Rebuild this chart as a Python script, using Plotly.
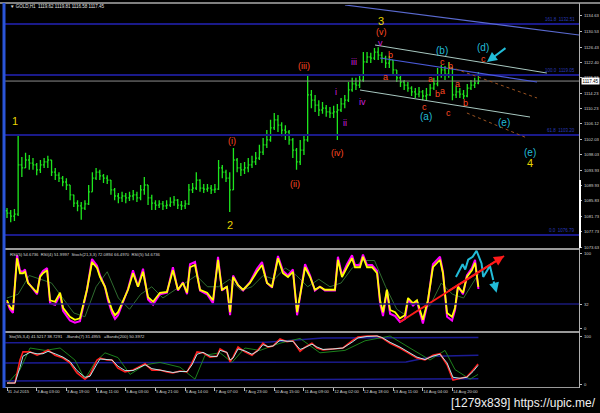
import plotly.graph_objects as go

# ---------------- data ----------------
# 2-hour price bars, x = hour index since 31 Jul 2015 (first bar)
bar_hours = list(range(0, 256, 2))
close = [1082.6,1081.8,1082.3,1095.3,1094.5,1096.6,1095.8,1095.3,1094.0,1095.3,
         1096.1,1096.6,1093.4,1092.6,1091.8,1090.8,1090.0,1087.4,1085.2,1084.5,
         1083.9,1085.0,1088.2,1091.8,1093.4,1092.4,1091.8,1091.3,1088.7,1087.1,
         1086.6,1087.1,1086.6,1087.1,1087.4,1086.6,1088.7,1090.0,1086.6,1085.2,
         1084.7,1085.0,1084.5,1084.7,1085.5,1086.0,1084.7,1084.5,1085.0,1088.7,
         1089.2,1091.3,1089.2,1088.9,1089.2,1088.7,1088.9,1094.5,1093.4,1091.8,
         1088.7,1096.6,1094.5,1094.0,1094.5,1095.3,1096.1,1097.1,1098.7,1100.6,
         1101.9,1105.1,1107.2,1105.8,1104.5,1104.0,1101.9,1099.2,1096.1,1099.2,
         1101.9,1113.8,1112.4,1111.1,1109.8,1110.3,1109.3,1109.0,1109.3,1109.8,
         1111.4,1112.4,1115.1,1116.7,1116.4,1117.7,1122.5,1123.8,1123.5,1125.1,
         1124.3,1123.5,1122.2,1123.0,1120.4,1118.3,1117.2,1116.4,1115.6,1114.6,
         1114.0,1114.6,1113.5,1113.8,1115.6,1116.7,1119.1,1120.4,1119.3,1120.9,
         1113.8,1114.6,1114.0,1113.5,1115.6,1116.4,1116.9,1117.45]
high = [1083.9,1083.4,1083.7,1103.2,1097.4,1098.5,1097.9,1097.1,1095.8,1096.6,
        1097.1,1097.7,1096.6,1094.5,1093.4,1092.4,1091.8,1090.0,1087.4,1086.0,
        1085.5,1086.0,1090.0,1093.4,1094.5,1094.0,1092.9,1092.6,1091.3,1089.2,
        1087.9,1088.2,1087.9,1088.2,1088.7,1088.2,1090.0,1092.1,1090.0,1087.4,
        1086.0,1086.0,1085.8,1086.0,1086.8,1087.1,1086.3,1085.8,1086.0,1090.3,
        1090.5,1093.4,1091.5,1090.3,1090.3,1090.0,1090.3,1096.6,1095.3,1094.0,
        1093.4,1099.8,1097.1,1095.8,1096.1,1097.1,1097.7,1098.7,1100.6,1102.4,
        1104.5,1107.2,1109.0,1108.5,1106.6,1105.8,1104.5,1102.4,1099.8,1101.9,
        1103.2,1119.05,1115.1,1113.8,1112.4,1111.9,1111.1,1110.6,1110.9,1111.4,
        1113.0,1113.8,1117.2,1118.3,1118.3,1119.3,1125.1,1125.1,1124.9,1126.2,
        1126.4,1125.1,1124.1,1124.1,1123.0,1120.4,1118.8,1117.7,1117.2,1116.1,
        1115.6,1115.9,1115.1,1115.6,1116.7,1118.3,1120.9,1121.7,1121.4,1122.5,
        1120.9,1116.1,1115.6,1115.1,1116.7,1117.7,1118.3,1119.81]
low = [1081.3,1080.2,1080.5,1081.8,1092.1,1094.5,1094.0,1094.0,1092.6,1093.2,
       1094.5,1094.5,1092.4,1091.3,1090.8,1089.7,1088.7,1086.0,1084.2,1083.1,
       1080.8,1083.4,1084.7,1088.2,1091.3,1091.3,1090.5,1090.3,1087.4,1086.0,
       1085.2,1085.5,1085.2,1085.8,1086.0,1085.5,1086.0,1087.4,1084.7,1083.4,
       1083.4,1083.9,1083.4,1083.7,1084.2,1084.5,1083.7,1083.4,1083.7,1084.7,
       1087.9,1088.7,1088.2,1087.9,1088.2,1087.6,1087.9,1088.7,1091.8,1090.8,
       1082.9,1088.7,1093.4,1092.4,1092.9,1093.4,1094.5,1095.3,1096.6,1097.9,
       1099.8,1101.4,1104.5,1104.0,1102.9,1101.9,1100.6,1097.1,1094.0,1095.3,
       1097.9,1101.4,1110.3,1109.3,1108.2,1108.8,1108.0,1107.7,1107.7,1101.9,
       1109.3,1110.3,1111.9,1114.6,1115.1,1115.6,1117.2,1122.2,1122.2,1123.0,
       1123.0,1122.2,1120.9,1120.9,1119.05,1117.2,1115.9,1115.1,1114.6,1113.5,
       1113.0,1113.2,1112.4,1112.4,1113.5,1115.1,1116.1,1118.3,1117.7,1118.3,
       1112.4,1113.0,1113.0,1112.7,1113.2,1115.1,1115.6,1116.58]
first_open = 1083.2
open_ = [first_open] + close[:-1]
last_price = 1117.45

price_ticks = [1134.63,1130.53,1126.43,1122.40,1118.33,1114.23,1110.23,1106.12,
               1102.03,1098.03,1093.93,1089.93,1085.83,1081.73,1077.73,1073.63]
fib_levels = [1132.51, 1119.05, 1103.20, 1076.79]
fib_texts = ["161.8  1132.51", "100.0  1119.05", "61.8  1103.20", "0.0  1076.79"]

time_tick_hours = [0,16,32,48,64,80,96,112,128,144,160,176,192,208,224,240]
time_labels = ["31 Jul 2015","3 Aug 03:00","3 Aug 19:00","4 Aug 11:00","5 Aug 03:00",
               "5 Aug 21:00","6 Aug 14:00","7 Aug 07:00","7 Aug 23:00","10 Aug 15:00",
               "11 Aug 09:00","12 Aug 02:00","12 Aug 18:00","13 Aug 11:00",
               "14 Aug 04:00","14 Aug 20:00"]

# RSI panel
rsi_hours = [0,1.6,3.2,5.4,7,8.6,9.7,11.3,14,16.2,
             17.8,19.4,21.6,23.2,25.9,28.6,30.2,33.9,36.6,39.3,
             43.1,45.8,48.5,50.1,52.8,54.4,56.6,58.2,59.8,62.5,
             65.2,67.9,70.6,73.3,76,78.7,82.4,86.2,89.4,92.1,
             94.8,97,98.6,101.3,104,107.8,111,113.7,115.8,118.5,
             120.2,121.8,124.5,127.2,130.9,134.7,137.4,140.1,142.8,146,
             148.7,151.4,154.1,156.3,157.9,160.6,163.3,165.9,168.6,171.3,
             174,176.7,178.3,180.5,183.2,185.9,187.5,190.2,191.8,194,
             196.7,199.4,201,202.6,204.7,206.4,209.1,211.7,214.4,216.1,
             218.8,220.9,224.1,226.8,229.5,233.3,234.9,237.1,239.8,241.4,
             243,245.7,247.8,250.5,252.2,254]
rsi5 = [37,28,24,93,73,73,75,60,53,47,
        68,73,77,37,35,47,27,15,11,13,
        51,88,80,68,55,40,24,17,21,37,
        51,73,55,75,41,35,47,48,77,51,
        60,47,81,84,51,47,37,91,51,55,
        21,68,57,51,60,75,84,60,55,93,
        73,68,75,21,44,81,68,51,55,51,
        51,51,91,68,81,93,81,81,95,81,
        81,73,37,21,51,24,21,13,17,40,
        33,37,11,37,81,91,73,20,15,27,
        55,47,68,77,87,54.7]
rsi4 = [35,25,20,97,76,75,78,61,52,45,
        70,76,80,33,31,45,23,10,7,9,
        51,92,83,70,55,37,20,12,17,35,
        52,77,55,79,38,31,45,47,81,50,
        61,45,85,88,50,45,33,95,50,55,
        17,70,57,50,61,79,88,60,54,96,
        76,70,78,17,42,85,70,50,55,50,
        50,50,95,70,85,97,84,84,98,84,
        84,76,33,16,50,19,16,8,12,38,
        30,35,6,35,85,95,75,15,10,24,
        56,45,70,80,91,52.0]
stoch21_hours = [0,6,12,18,24,30,36,42,48,54,60,66,72,78,84,90,96,102,108,114,120,
                 126,132,138,144,150,156,162,168,174,180,186,192,198,204,210,216,
                 222,228,234,240,246,254]
stoch21 = [40,45,70,65,60,40,20,15,55,75,40,25,45,55,40,50,60,70,55,55,65,
           50,55,70,65,80,70,55,65,55,60,80,90,90,55,25,15,25,30,60,45,40,72]
rsi_level = 32
cyan_path_hours = [241.9,243.7,245.5,246.9,248.5,250.9,253.0,255.7,256.6,258.8,260.2,262.0]
cyan_path_vals = [68,77,85,78,91,95,103,86,68,77,83,64]
cyan_arrow_end = (263.8, 47)
red_trend_hours = [211.7, 267.8]
red_trend_vals = [8, 96]

# Stochastic panel
sto_hours = [0,4.3,7,8.6,12.4,16.2,19.4,22.1,25.9,30.2,
             33.9,37.7,42,44.7,48.5,50.1,53.9,56.6,59.8,63.6,
             67.9,70.6,74.4,78.1,82.4,86.2,89.4,93.2,97,99.7,
             102.4,105.6,109.4,113.1,114.8,118.5,120.2,121.8,124.5,128.2,
             132,135.2,137.9,140.6,143.3,147.1,150.9,154.1,157.9,160.6,
             164.3,167,170.3,175.6,181,185.9,189.1,194,199.4,202,
             206.4,211.7,216.1,220.9,225.2,229.5,233.3,237.1,240.3,244.1,
             247.8,251.1,253.8]
sto_main = [2,2,50,67,67,60,65,71,60,54,
            44,23,10,19,50,54,50,50,33,25,
            29,35,42,29,29,25,23,27,25,44,
            67,65,56,58,73,65,46,56,77,67,
            60,71,85,77,79,94,88,90,68,77,
            85,75,71,73,75,90,98,100,100,96,
            85,75,65,54,50,60,63,40,8,12,
            15,29,41.5]
sto_signal = [2,2,35,58,66,63,63,68,63,56,
              47,28,14,16,42,52,51,50,37,28,
              28,33,40,32,29,26,24,26,26,40,
              62,66,58,57,70,66,50,54,73,69,
              62,69,82,78,79,91,89,89,72,76,
              83,77,72,73,75,87,96,99,100,97,
              87,77,67,56,51,58,62,44,14,12,
              14,26,38.7]
sto_green_hours = [0,7,12.4,20.5,28.6,36.6,42,47.4,52.8,59.8,66.3,74.4,82.4,93.2,101.3,
                   106.7,114.8,121.2,128.2,136.3,147.1,157.9,168.6,182.1,192.9,206.4,
                   217.1,227.9,236,241.4,249.5,253.8]
sto_green = [0,30,75,70,75,50,10,45,65,55,20,40,45,35,10,60,65,45,75,70,85,95,65,70,
             90,100,75,50,70,30,10,20]
band_up_hours = [-1, 140, 170, 254]
band_up = [86, 87, 96, 97]
band_mid_hours = [-1, 215, 230, 254]
band_mid = [44, 46, 58, 60]
band_low_hours = [-1, 254]
band_low = [6, 11]

# ---------------- figure ----------------
W, H = 600, 413
L, R, T, B = 5, 21, 5, 26
def px(x):
    return (x - L) / (W - L - R)
def py(y):
    return (H - B - y) / (H - T - B)

XR = [-1.08, 308.2]
GREEN = "#1ee61e"
YEL = "#e8d400"
RED = "#ff4a22"
MAG = "#cc22d8"
CYAN = "#22bcd8"
FONT = "Liberation Sans"

fig = go.Figure()
fig.add_trace(go.Ohlc(x=bar_hours, open=open_, high=high, low=low, close=close,
                      increasing=dict(line=dict(color=GREEN, width=1.3)),
                      decreasing=dict(line=dict(color=GREEN, width=1.3)),
                      tickwidth=0.35, xaxis="x", yaxis="y", hoverinfo="skip"))

fig.add_trace(go.Scatter(x=stoch21_hours, y=stoch21, mode="lines", xaxis="x2", yaxis="y2",
                         line=dict(color="#2f6b2f", width=1)))
fig.add_trace(go.Scatter(x=rsi_hours, y=rsi4, mode="lines", xaxis="x2", yaxis="y2",
                         line=dict(color="#ff00ff", width=2.0)))
fig.add_trace(go.Scatter(x=rsi_hours, y=rsi5, mode="lines", xaxis="x2", yaxis="y2",
                         line=dict(color="#ffff00", width=1.8)))
fig.add_trace(go.Scatter(x=red_trend_hours, y=red_trend_vals, mode="lines", xaxis="x2", yaxis="y2",
                         line=dict(color="#ff1a1a", width=2)))
fig.add_trace(go.Scatter(x=cyan_path_hours, y=cyan_path_vals, mode="lines", xaxis="x2", yaxis="y2",
                         line=dict(color=CYAN, width=2)))

for hx, hv in [(band_up_hours, band_up), (band_mid_hours, band_mid), (band_low_hours, band_low)]:
    fig.add_trace(go.Scatter(x=hx, y=hv, mode="lines", xaxis="x3", yaxis="y3",
                             line=dict(color="#1c1c96", width=1.5)))
fig.add_trace(go.Scatter(x=sto_green_hours, y=sto_green, mode="lines", xaxis="x3", yaxis="y3",
                         line=dict(color="#1f8f1f", width=0.9)))
fig.add_trace(go.Scatter(x=sto_hours, y=sto_main, mode="lines", xaxis="x3", yaxis="y3",
                         line=dict(color="#ff2020", width=1.6)))
fig.add_trace(go.Scatter(x=sto_hours, y=sto_signal, mode="lines", xaxis="x3", yaxis="y3",
                         line=dict(color="#b8ffff", width=0.9)))

tickfont = dict(family=FONT, size=4.2, color="#d0d0d0")
common_x = dict(range=XR, showgrid=False, zeroline=False, showline=False, fixedrange=True,
                automargin=False)
common_y = dict(side="right", showticklabels=False, ticks="outside", ticklen=2,
                tickcolor="#c0c0c0", showgrid=False, zeroline=False, fixedrange=True,
                automargin=False, tickmode="array")
fig.update_layout(
    template="none",
    width=W, height=H, margin=dict(l=L, r=R, t=T, b=B),
    paper_bgcolor="#000000", plot_bgcolor="#000000", showlegend=False,
    xaxis=dict(domain=[0, 1], anchor="y", showticklabels=False, ticks="",
               rangeslider=dict(visible=False), **common_x),
    xaxis2=dict(domain=[0, 1], anchor="y2", showticklabels=False, ticks="", matches="x", **common_x),
    xaxis3=dict(domain=[0, 1], anchor="y3", matches="x", tickmode="array",
                tickvals=time_tick_hours, ticktext=time_labels, ticks="outside",
                ticklen=3, tickcolor="#c0c0c0", tickfont=tickfont, tickangle=0,
                ticklabelposition="outside right", **common_x),
    yaxis=dict(domain=[py(248), 1], range=[1073.37, 1137.53], anchor="x",
               tickvals=price_ticks, **common_y),
    yaxis2=dict(domain=[py(331), py(250)], range=[-4, 104], anchor="x2",
                tickvals=[0, 32, 100], **common_y),
    yaxis3=dict(domain=[0, py(333)], range=[-6.25, 106.25], anchor="x3",
                tickvals=[0, 100], **common_y),
)

shapes = []
def pline(x0, y0, x1, y1, color, width, dash="solid"):
    shapes.append(dict(type="line", xref="paper", yref="paper", x0=px(x0), y0=py(y0),
                       x1=px(x1), y1=py(y1), line=dict(color=color, width=width, dash=dash)))

for lv in fib_levels:
    shapes.append(dict(type="line", xref="paper", yref="y", x0=0, x1=1, y0=lv, y1=lv,
                       line=dict(color="#1a1a8a", width=2)))
shapes.append(dict(type="line", xref="paper", yref="y", x0=0, x1=1, y0=last_price, y1=last_price,
                   line=dict(color="#8c8c8c", width=1)))
shapes.append(dict(type="line", xref="paper", yref="y2", x0=0, x1=1, y0=rsi_level, y1=rsi_level,
                   line=dict(color="#1a1a7a", width=1.5)))

# channel / trend lines drawn on the price chart (hour index, price)
channel_lines = [
    ((182.1, 1137.53), (308.2, 1129.61), "#5a6ad0", 1.2, "solid"),
    ((198.3, 1126.97), (290.9, 1119.57), "#a8c8c0", 1.0, "solid"),
    ((201.0, 1123.53), (285.6, 1117.20), "#4a5ad8", 1.2, "solid"),
    ((190.2, 1115.08), (281.8, 1107.95), "#a8c8c0", 1.0, "solid"),
    ((238.7, 1121.16), (285.6, 1112.97), "#9a5220", 1.0, "dot"),
    ((247.8, 1109.01), (280.2, 1102.41), "#9a5220", 1.0, "dot"),
]
for (a, b, c, w, d) in channel_lines:
    shapes.append(dict(type="line", xref="x", yref="y", x0=a[0], y0=a[1], x1=b[0], y1=b[1],
                       line=dict(color=c, width=w, dash=d)))

# frame
pline(0, 3, 600, 3, "#808080", 2)
pline(5, 249, 579, 249, "#9a9a9a", 2)
pline(5, 332, 579, 332, "#9a9a9a", 2)
pline(5, 387.5, 579, 387.5, "#9a9a9a", 1)
pline(579.5, 3, 579.5, 388, "#b0b0b0", 1)
pline(580, 180, 580, 248, "#ffffff", 2)
pline(4, 3, 4, 388, "#2a55d8", 3)
fig.update_layout(shapes=shapes)

ann = []
def label(text, x, y, color, size, xref="x", yref="y"):
    ann.append(dict(text=text, x=x, y=y, xref=xref, yref=yref, showarrow=False,
                    font=dict(family=FONT, size=size, color=color)))

wave_labels = [
    ("1", 4.3, 1106.9, YEL, 11), ("2", 120.2, 1079.4, YEL, 11), ("3", 201.5, 1133.3, YEL, 11),
    ("4", 281.8, 1095.8, YEL, 11),
    ("(i)", 121.2, 1101.6, RED, 9), ("(ii)", 155.2, 1090.3, RED, 9), ("(iii)", 160.0, 1121.4, RED, 9),
    ("(iv)", 178.3, 1098.4, RED, 9), ("(v)", 202.0, 1130.4, RED, 9),
    ("i", 177.3, 1114.5, MAG, 9), ("ii", 182.1, 1106.4, MAG, 9), ("iii", 187.0, 1122.5, MAG, 9),
    ("iv", 191.3, 1111.9, MAG, 9), ("v", 201.0, 1127.5, MAG, 9),
    ("b", 206.4, 1124.3, RED, 9), ("a", 204.2, 1118.5, RED, 9), ("c", 225.2, 1110.6, RED, 9),
    ("a", 228.4, 1118.0, RED, 9), ("b", 232.2, 1114.0, RED, 9), ("a", 234.9, 1114.8, RED, 9),
    ("c", 234.4, 1122.5, RED, 9), ("b", 238.7, 1121.4, RED, 9), ("c", 238.1, 1109.0, RED, 9),
    ("a", 242.5, 1116.7, RED, 9), ("b", 246.8, 1111.6, RED, 9), ("c", 256.5, 1123.3, RED, 9),
    ("(a)", 225.8, 1108.2, CYAN, 10), ("(b)", 234.4, 1125.4, CYAN, 10), ("(d)", 256.5, 1126.4, CYAN, 10),
    ("(e)", 267.8, 1106.4, CYAN, 10), ("(e)", 281.8, 1098.7, CYAN, 10),
]
for t, x, y, c, s in wave_labels:
    label(t, x, y, c, s)

for lv, tx in zip(fib_levels, fib_texts):
    ann.append(dict(text=tx, x=px(577), y=lv, xref="paper", yref="y", xanchor="right",
                    yanchor="bottom", showarrow=False,
                    font=dict(family=FONT, size=4.5, color="#2a3ab8")))

# right-hand scale labels
def scale_label(text, yval, yref):
    ann.append(dict(text=text, x=px(582), y=yval, xref="paper", yref=yref, xanchor="left",
                    yanchor="middle", showarrow=False, font=tickfont))
for v in price_ticks:
    scale_label("%.2f" % v, v, "y")
for v in [0, 32, 100]:
    scale_label(str(v), v, "y2")
for v in [0, 100]:
    scale_label(str(v), v, "y3")

# arrows
ann.append(dict(x=258.6, y=1122.48, ax=269.4, ay=1126.44, xref="x", yref="y", axref="x", ayref="y",
                text="", showarrow=True, arrowhead=2, arrowsize=1, arrowwidth=2, arrowcolor=CYAN))
ann.append(dict(x=red_trend_hours[1], y=red_trend_vals[1], ax=237, ay=48, xref="x2", yref="y2",
                axref="x2", ayref="y2", text="", showarrow=True, arrowhead=2, arrowwidth=2,
                arrowcolor="#ff1a1a"))
ann.append(dict(x=cyan_arrow_end[0], y=cyan_arrow_end[1], ax=cyan_path_hours[-1], ay=cyan_path_vals[-1],
                xref="x2", yref="y2", axref="x2", ayref="y2", text="", showarrow=True,
                arrowhead=2, arrowwidth=2, arrowcolor=CYAN))

# header texts
ann.append(dict(text="\u25bc GOLD,H1  1119.62 1119.81 1116.58 1117.45", x=px(8), y=py(7),
                xref="paper", yref="paper", xanchor="left", yanchor="middle", showarrow=False,
                font=dict(family=FONT, size=4.5, color="#e0e0e0")))
ann.append(dict(text="RSI(5) 54.6736  RSI(4) 51.9997  Stoch(21,3,3) 72.0894 66.4970  RSI(5) 54.6736",
                x=px(8), y=py(254), xref="paper", yref="paper", xanchor="left", yanchor="middle",
                showarrow=False, font=dict(family=FONT, size=4.2, color="#d8d8d8")))
ann.append(dict(text="Sto(55,3,4) 41.5217 38.7291   -Bands(7) 31.4955   =Bands(200) 50.3972",
                x=px(7), y=py(336), xref="paper", yref="paper", xanchor="left", yanchor="middle",
                showarrow=False, font=dict(family=FONT, size=4.2, color="#d8d8d8")))
# current price box
ann.append(dict(text="1117.45", x=px(580.5), y=last_price, xref="paper", yref="y", xanchor="left",
                yanchor="middle", showarrow=False, bgcolor="#ffffff", borderpad=0.5,
                font=dict(family=FONT, size=4.5, color="#000000")))
# watermark
ann.append(dict(text="[1279x839] https://upic.me/", x=px(598), y=py(403), xref="paper", yref="paper",
                xanchor="right", yanchor="middle", showarrow=False,
                font=dict(family=FONT, size=12, color="#f0f0f0")))
fig.update_layout(annotations=ann)

fig.write_html("out.html", config={"displayModeBar": False},
               post_script="document.body.style.margin='0px';document.body.style.background='#000';")
